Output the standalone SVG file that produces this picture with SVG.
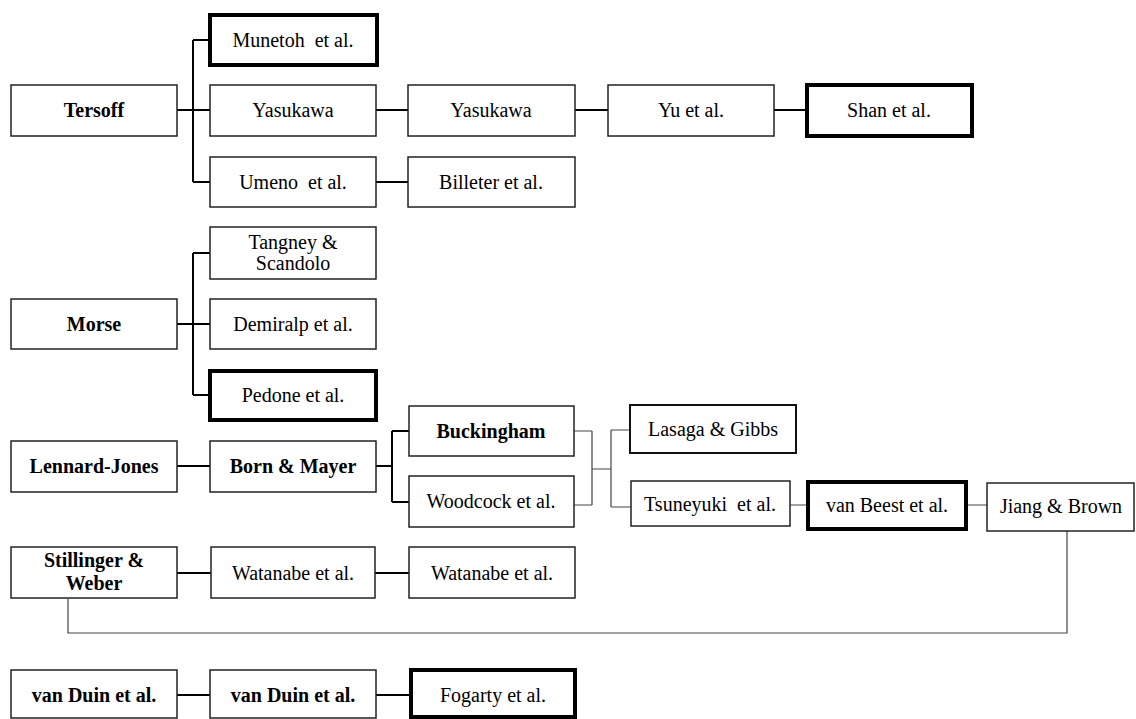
<svg xmlns="http://www.w3.org/2000/svg" width="1136" height="719" viewBox="0 0 1136 719">
<style>
.b{fill:#fff;stroke:#222;stroke-width:1.5}
.k{fill:#fff;stroke:#000;stroke-width:4}
.m{fill:#fff;stroke:#111;stroke-width:2}
text{font-family:"Liberation Serif","Times New Roman",serif;font-size:20px;fill:#000;text-anchor:middle;white-space:pre}
.bd{font-weight:bold}
.c{fill:none;stroke:#000;stroke-width:2}
.t{fill:none;stroke:#444;stroke-width:1.2}
</style>
<rect width="1136" height="719" fill="#fff"/>
<g id="connectors">
<path class="c" d="M177 110H210M193 40V182M193 40H210M193 182H210"/>
<path class="c" d="M376 110H408M575 110H608M774 110H807M376 182H408"/>
<path class="c" d="M177 324H210M193 253V395M193 253H210M193 395H210"/>
<path class="c" d="M177 466H210M376 466H392M392 431V502M392 431H409M392 502H409"/>
<path class="t" d="M574 431H592M574 505H592M592 431V505M592 469H611M611 430V507M611 430H630M611 507H631M790 505H808M966 505H987"/>
<path class="t" d="M1067 531V633H68V599"/>
<path class="c" d="M177 573H211M375 573H409"/>
<path class="c" d="M177 695H210M376 695H411"/>
</g>
<g id="tersoff"><rect class="b" x="11" y="85" width="166" height="51"/><text class="bd" x="94" y="117">Tersoff</text></g>
<g id="munetoh"><rect class="k" x="210" y="15" width="167" height="50"/><text x="293" y="47">Munetoh  et al.</text></g>
<g id="yasukawa1"><rect class="b" x="210" y="85" width="166" height="51"/><text x="293" y="117">Yasukawa</text></g>
<g id="umeno"><rect class="b" x="210" y="157" width="166" height="50"/><text x="293" y="189">Umeno  et al.</text></g>
<g id="yasukawa2"><rect class="b" x="408" y="85" width="167" height="51"/><text x="491" y="117">Yasukawa</text></g>
<g id="yu"><rect class="b" x="608" y="85" width="166" height="51"/><text x="691" y="117">Yu et al.</text></g>
<g id="shan"><rect class="k" x="807" y="85" width="165" height="51"/><text x="889" y="117">Shan et al.</text></g>
<g id="billeter"><rect class="b" x="408" y="157" width="167" height="50"/><text x="491" y="189">Billeter et al.</text></g>
<g id="morse"><rect class="b" x="11" y="299" width="166" height="50"/><text class="bd" x="94" y="331">Morse</text></g>
<g id="tangney"><rect class="b" x="210" y="227" width="166" height="52"/><text x="293" y="249">Tangney &amp;</text><text x="293" y="270">Scandolo</text></g>
<g id="demiralp"><rect class="b" x="210" y="299" width="166" height="50"/><text x="293" y="331">Demiralp et al.</text></g>
<g id="pedone"><rect class="k" x="210" y="371" width="166" height="49"/><text x="293" y="402">Pedone et al.</text></g>
<g id="lennard"><rect class="b" x="11" y="441" width="166" height="51"/><text class="bd" x="94" y="473">Lennard-Jones</text></g>
<g id="born"><rect class="b" x="210" y="441" width="166" height="51"/><text class="bd" x="293" y="473">Born &amp; Mayer</text></g>
<g id="buckingham"><rect class="b" x="409" y="406" width="165" height="50"/><text class="bd" x="491" y="438">Buckingham</text></g>
<g id="woodcock"><rect class="b" x="409" y="476" width="165" height="51"/><text x="491" y="508">Woodcock et al.</text></g>
<g id="lasaga"><rect class="m" x="630" y="405" width="166" height="48"/><text x="713" y="436">Lasaga &amp; Gibbs</text></g>
<g id="tsuneyuki"><rect class="b" x="631" y="481" width="159" height="45"/><text x="710" y="511">Tsuneyuki  et al.</text></g>
<g id="vanbeest"><rect class="k" x="808" y="482" width="158" height="47"/><text x="887" y="512">van Beest et al.</text></g>
<g id="jiang"><rect class="b" x="987" y="483" width="147" height="48"/><text x="1061" y="513">Jiang &amp; Brown</text></g>
<g id="stillinger"><rect class="b" x="11" y="547" width="166" height="51"/><text class="bd" x="94" y="567">Stillinger &amp;</text><text class="bd" x="94" y="590">Weber</text></g>
<g id="watanabe1"><rect class="b" x="211" y="547" width="164" height="51"/><text x="293" y="580">Watanabe et al.</text></g>
<g id="watanabe2"><rect class="b" x="409" y="547" width="166" height="51"/><text x="492" y="580">Watanabe et al.</text></g>
<g id="vanduin1"><rect class="b" x="11" y="670" width="166" height="48"/><text class="bd" x="94" y="702">van Duin et al.</text></g>
<g id="vanduin2"><rect class="b" x="210" y="670" width="166" height="48"/><text class="bd" x="293" y="702">van Duin et al.</text></g>
<g id="fogarty"><rect class="k" x="411" y="670" width="164" height="47"/><text x="493" y="702">Fogarty et al.</text></g>
</svg>
